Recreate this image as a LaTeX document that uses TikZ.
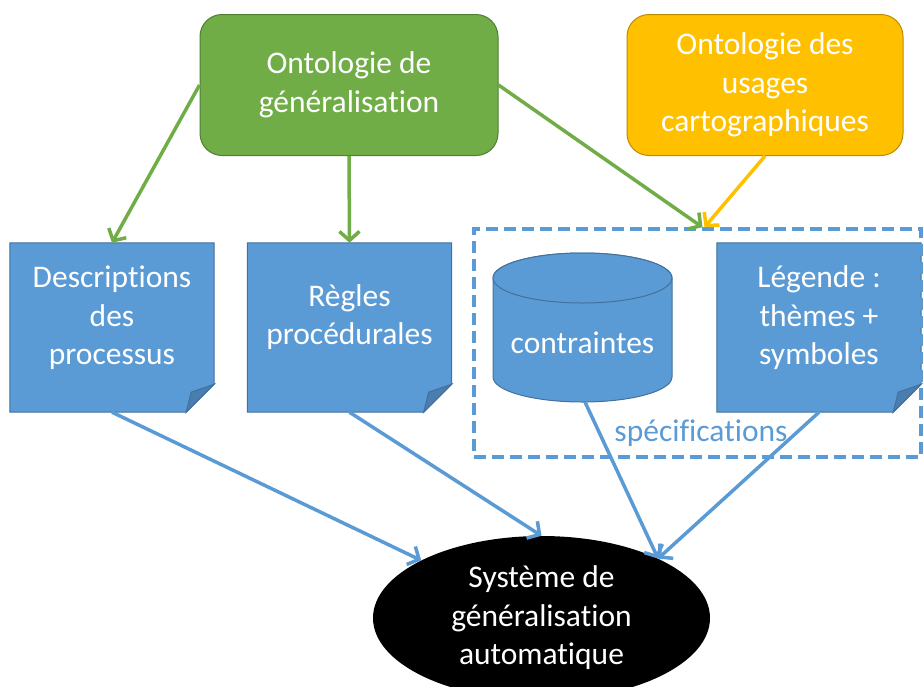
\documentclass[tikz,border=0pt]{standalone}
\usepackage{fontspec}
\setmainfont[Ligatures={NoCommon}]{Carlito}
\usetikzlibrary{arrows.meta,shapes.geometric,backgrounds}
\definecolor{gfill}{HTML}{70AD47}
\definecolor{gline}{HTML}{507E32}
\definecolor{ofill}{HTML}{FFC000}
\definecolor{oline}{HTML}{BC8C00}
\definecolor{bfill}{HTML}{5B9BD5}
\definecolor{bline}{HTML}{41719C}
\definecolor{bfold}{HTML}{4A7EB0}
\tikzset{
  x=1pt,y=1pt,
  txt/.style={text=white,align=center,font=\fontsize{31.5}{38.5}\selectfont},
  topbox/.style={rounded corners=22pt,minimum width=298pt,minimum height=141pt,line width=1pt,txt},
  notebox/.style={minimum width=204pt,minimum height=169pt,draw=none},
  notefill/.style={fill=bfill,draw=bline,line width=1pt},
  foldfill/.style={fill=bfold,draw=bline,line width=1pt},
  conn/.style={line width=3.5pt,-{Straight Barb[length=9pt,width=20pt,line width=3.5pt]}},
  gconn/.style={conn,draw=gfill},
  oconn/.style={conn,draw=ofill},
  bconn/.style={conn,draw=bfill},
}
\newcommand\drawnote[1]{%
  \path[notefill] (#1.north west) -- (#1.north east) -- ([yshift=28pt]#1.south east) -- ([xshift=-28pt]#1.south east) -- (#1.south west) -- cycle;
  \path[foldfill] ([yshift=28pt]#1.south east) -- ([xshift=-23pt,yshift=20pt]#1.south east) -- ([xshift=-28pt]#1.south east) -- cycle;}
\begin{document}
\begin{tikzpicture}
\clip (0,0) rectangle (923,-686);
\useasboundingbox (0,0) rectangle (923,-686);
% top boxes
\node[topbox,fill=gfill,draw=gline] (gen) at (349,-85) {Ontologie de\\généralisation};
\node[topbox,minimum width=276pt,fill=ofill,draw=oline] (usa) at (765,-85) {Ontologie des\\usages\\cartographiques};
% notes
\node[notebox] (desc) at (112,-327.5) {};
\node[notebox] (regl) at (349.5,-327.5) {};
\node[notebox] (leg) at (819,-327.5) {};
\begin{scope}[on background layer]
\drawnote{desc}\drawnote{regl}\drawnote{leg}
\end{scope}
\node[txt] (desct) at (112,-318) {Descriptions\\des\\processus};
\node[txt] (reglt) at (349.5,-317) {Règles\\procédurales};
\node[txt] (legt) at (819,-318) {Légende :\\thèmes +\\symboles};
% specification frame
\node[draw=bfill,line width=3.5pt,dash pattern=on 12pt off 6pt,minimum width=447pt,minimum height=228pt] (spec) at (697.5,-343) {};
\node[text=bfill,font=\fontsize{31.5}{38.5}\selectfont] (spect) at (701,-433) {spécifications};
% cylinder
\coordinate (cyltop) at (582.5,-278);
\coordinate (cylbot) at (582.5,-377);
\path[notefill] (493,-278) -- (493,-377) arc[start angle=180,end angle=360,x radius=89.5,y radius=25] -- (672,-278) arc[start angle=0,end angle=180,x radius=89.5,y radius=25] -- cycle;
\path[notefill] (cyltop) ellipse[x radius=89.5,y radius=25];
\node[txt] (con) at (582.5,-343) {contraintes};
\coordinate (conbot) at (585,-402);
% system
\node[ellipse,fill=black,minimum width=337pt,minimum height=164pt,txt,inner sep=0pt] (sys) at (541.5,-618) {Système de\\généralisation\\automatique};
\coordinate (sysin) at (sys.27);
% connectors
\draw[gconn] (gen.west) -- (desc.north);
\draw[gconn] (gen.south) -- (regl.north);
\draw[gconn] (gen.east) -- ([xshift=5pt]spec.north);
\draw[oconn] (usa.south) -- ([xshift=7pt]spec.north);
\draw[bconn] (desc.south) -- (sys);
\draw[bconn] (regl.south) -- (sys.north);
\draw[bconn] (conbot) -- (sysin);
\draw[bconn] (leg.south) -- (sysin);
\end{tikzpicture}
\end{document}
